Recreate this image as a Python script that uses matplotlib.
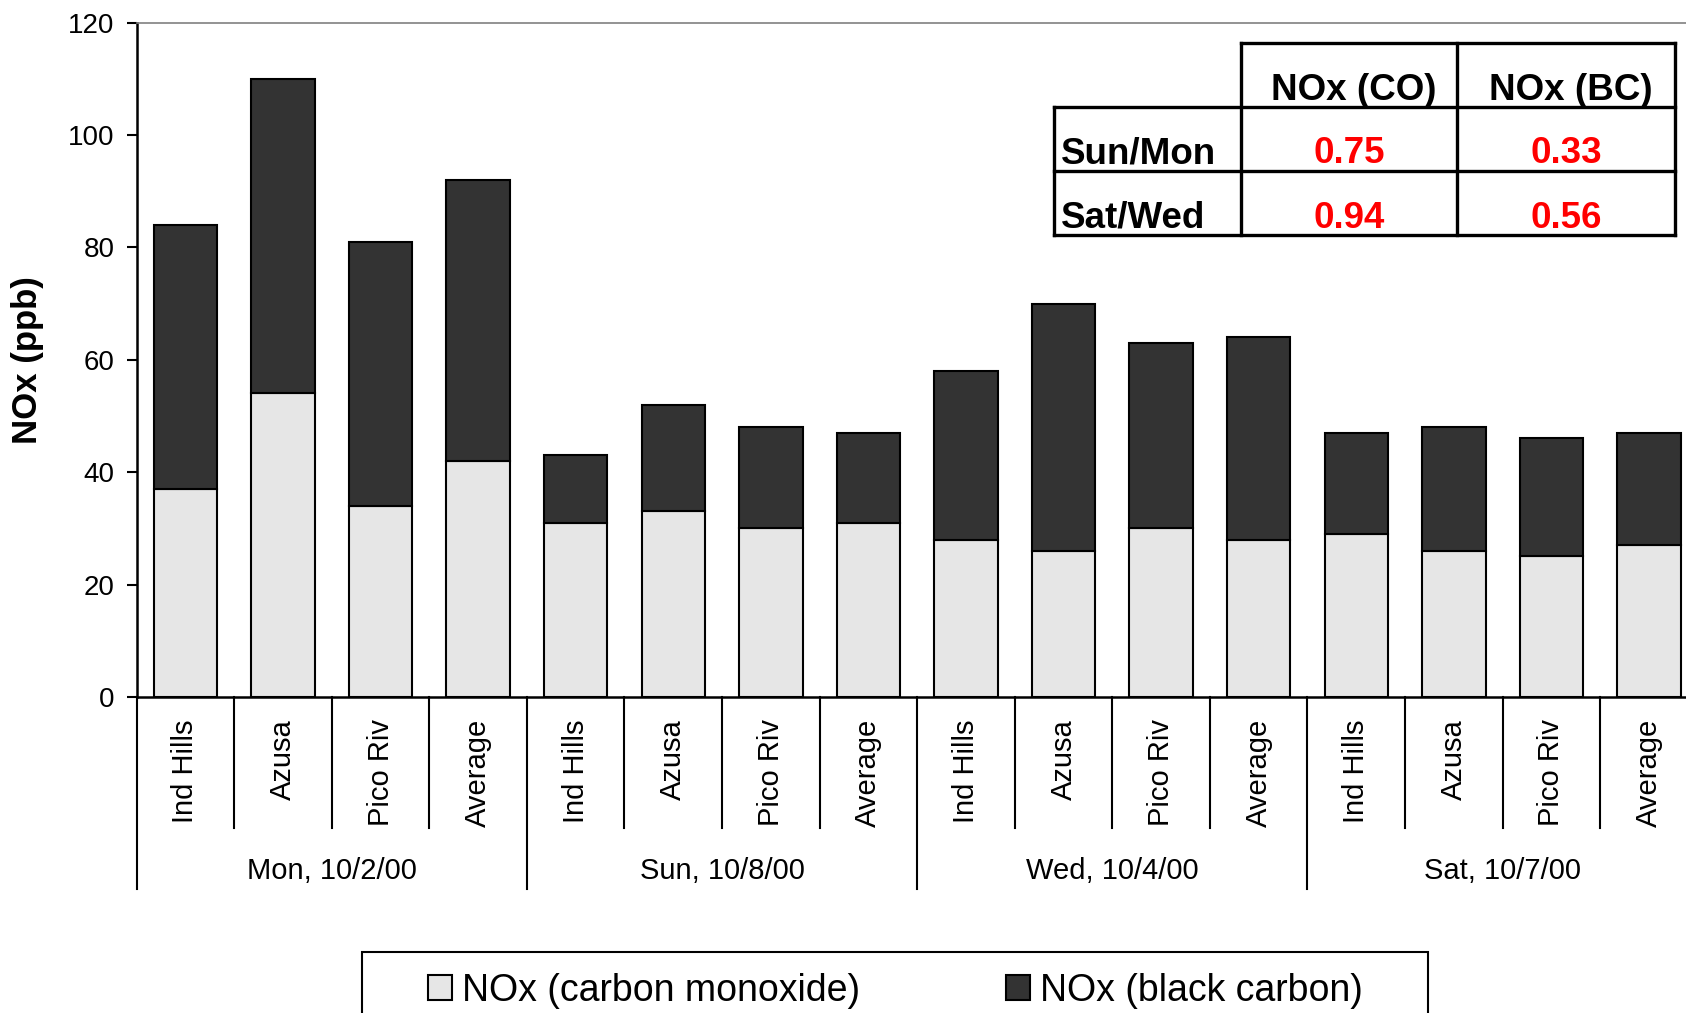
import numpy as np
import matplotlib
matplotlib.use("Agg")
import matplotlib.pyplot as plt
from matplotlib.lines import Line2D
from matplotlib.patches import Rectangle

plt.rcParams['font.family'] = ['Liberation Sans', 'DejaVu Sans']

# NOx (ppb) apportioned to CO and black carbon, per site and day
sites = ["Ind Hills", "Azusa", "Pico Riv", "Average"]
days = ["Mon, 10/2/00", "Sun, 10/8/00", "Wed, 10/4/00", "Sat, 10/7/00"]
nox_co = [37, 54, 34, 42, 31, 33, 30, 31, 28, 26, 30, 28, 29, 26, 25, 27]
nox_bc = [47, 56, 47, 50, 12, 19, 18, 16, 30, 44, 33, 36, 18, 22, 21, 20]

# weekend / weekday ratios
ratio_cols = ["NOx (CO)", "NOx (BC)"]
ratio_rows = ["Sun/Mon", "Sat/Wed"]
ratio_vals = [[0.75, 0.33], [0.94, 0.56]]

light = '#e6e6e6'
dark = '#333333'

fig = plt.figure(figsize=(16.86, 10.13), dpi=100)
ax = fig.add_axes([0.081, 0.312, 0.926, 0.6657])

x = np.arange(len(nox_co))
ax.bar(x, nox_co, 0.65, color=light, edgecolor='black', linewidth=1.5,
       label='NOx (carbon monoxide)')
ax.bar(x, nox_bc, 0.65, bottom=nox_co, color=dark, edgecolor='black',
       linewidth=1.5, label='NOx (black carbon)')

ax.set_xlim(-0.5, 15.5)
ax.set_ylim(0, 120)
ax.set_yticks(range(0, 121, 20))
ax.tick_params(axis='y', labelsize=20, length=7, width=1.5, pad=9)
ax.set_xticks(x, sites * len(days), rotation=90)
ax.tick_params(axis='x', labelsize=21, length=0, pad=16)

ax.spines['right'].set_visible(False)
ax.spines['top'].set_color('#808080')
ax.spines['top'].set_linewidth(1.2)
ax.spines['left'].set_linewidth(1.8)
ax.spines['bottom'].set_linewidth(1.8)

ax.set_ylabel('NOx (ppb)', fontsize=25, fontweight='bold')
ax.yaxis.set_label_coords(-0.059, 0.5)

# category dividers below the axis, longer ones between days
trans = ax.get_xaxis_transform()
for b in np.arange(-0.5, len(nox_co), 1.0):
    low = -0.285 if (b + 0.5) % 4 == 0 else -0.194
    ax.plot([b, b], [0, low], transform=trans, color='black', lw=1.5,
            clip_on=False)
for i, d in enumerate(days):
    ax.text(4 * i + 1.5, -0.258, d, transform=trans, ha='center',
            va='center', fontsize=21)

# ratio table in the upper right
W, H = 1686, 1013
xs = [c / W for c in (1054, 1241, 1457, 1675)]
ys = [1 - r / H for r in (43, 107.5, 171, 235.5)]
tlw = 2.4
lines = [
    ([xs[1], xs[3]], [ys[0], ys[0]]),
    ([xs[0], xs[3]], [ys[1], ys[1]]),
    ([xs[0], xs[3]], [ys[2], ys[2]]),
    ([xs[0], xs[3]], [ys[3], ys[3]]),
    ([xs[0], xs[0]], [ys[1], ys[3]]),
    ([xs[1], xs[1]], [ys[0], ys[3]]),
    ([xs[2], xs[2]], [ys[0], ys[3]]),
    ([xs[3], xs[3]], [ys[0], ys[3]]),
]
for lx, ly in lines:
    fig.add_artist(Line2D(lx, ly, color='black', lw=tlw,
                          transform=fig.transFigure))

for j, col in enumerate(ratio_cols):
    fig.text((xs[j + 1] + xs[j + 2]) / 2 + 0.003, ys[1], col, ha='center',
             va='bottom', fontsize=26.5, fontweight='bold')
for i, row in enumerate(ratio_rows):
    yc = ys[i + 2]
    fig.text(xs[0] + 0.004, yc, row, ha='left', va='bottom', fontsize=26.5,
             fontweight='bold')
    for j, v in enumerate(ratio_vals[i]):
        fig.text((xs[j + 1] + xs[j + 2]) / 2, yc, f"{v:.2f}", ha='center',
                 va='bottom', fontsize=26.5, fontweight='bold', color='red')

# legend with a box running off the bottom edge
fig.legend(loc='center', bbox_to_anchor=(0.531, 0.022), ncol=2,
           frameon=False, fontsize=27, handlelength=0.65, handleheight=0.65,
           handletextpad=0.25, columnspacing=3.9)
fig.add_artist(Rectangle((362 / W, -0.05), (1428 - 362) / W,
                         (1013 - 952) / H + 0.05, transform=fig.transFigure,
                         fill=False, edgecolor='black', lw=1.5))

fig.savefig('out.png', dpi=100)
plt.close(fig)
